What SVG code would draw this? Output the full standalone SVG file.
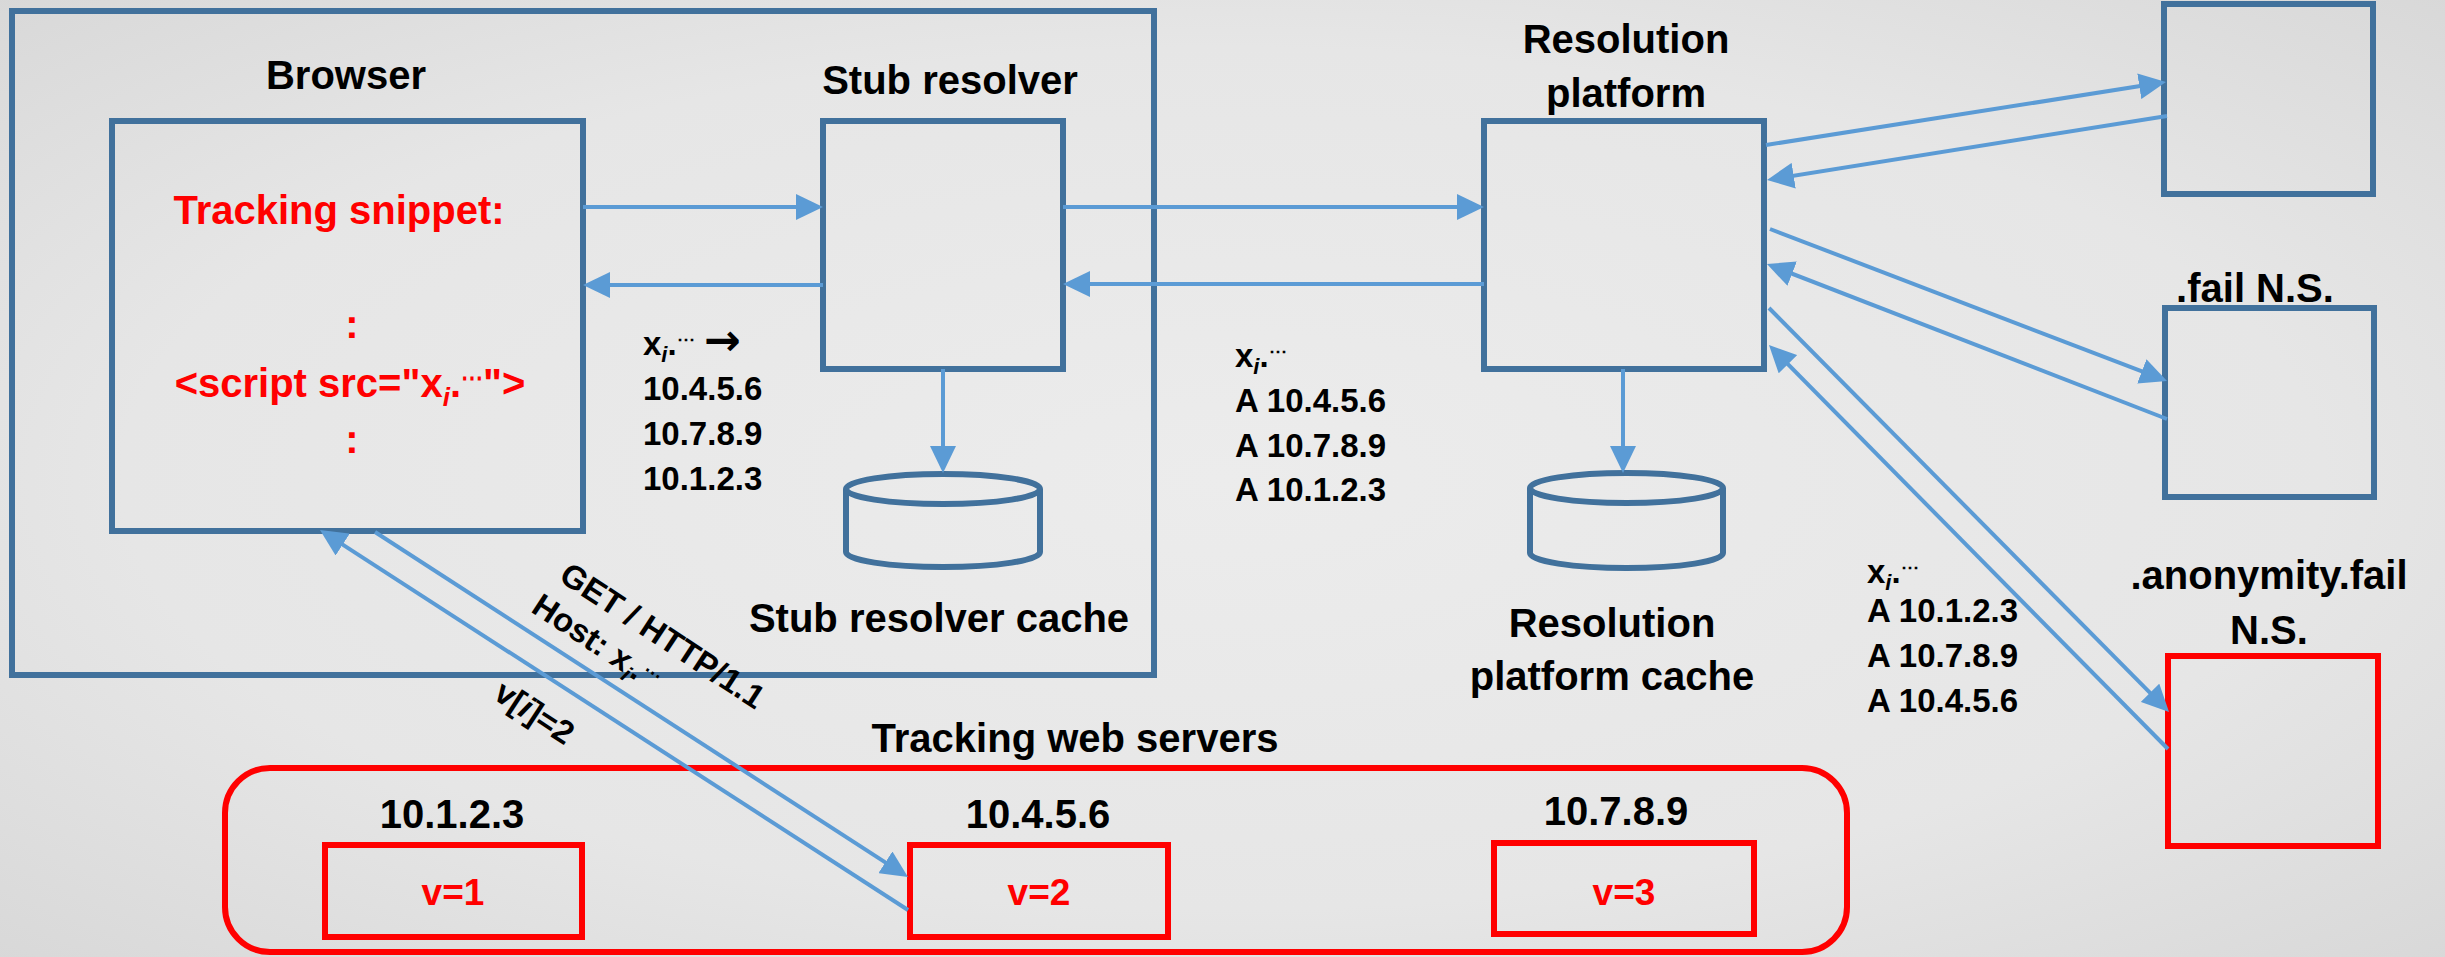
<svg xmlns="http://www.w3.org/2000/svg" width="2445" height="957" viewBox="0 0 2445 957">
<defs>
<radialGradient id="bg" cx="50%" cy="50%" r="75%">
<stop offset="0" stop-color="#ECECEC"/>
<stop offset="0.6" stop-color="#E6E6E6"/>
<stop offset="1" stop-color="#D6D6D6"/>
</radialGradient>
<marker id="ah" markerWidth="27" markerHeight="26" refX="17" refY="13" orient="auto" markerUnits="userSpaceOnUse">
<path d="M0,0 L27,13 L0,26 z" fill="#5B9BD5"/>
</marker>
<style>
.box{fill:none;stroke:#41719C;stroke-width:6}
.rbox{fill:none;stroke:#FF0000;stroke-width:6}
.con{fill:none;stroke:#5B9BD5;stroke-width:4;marker-end:url(#ah)}
text{font-family:"Liberation Sans",Arial,sans-serif;font-weight:bold;fill:#000}
.t40{font-size:40px}
.t33{font-size:33px}
.red{fill:#FF0000}
.mid{text-anchor:middle}
.arr{font-family:"DejaVu Sans",sans-serif;font-weight:bold;font-size:44px}
</style>
</defs>
<rect x="0" y="0" width="2445" height="957" fill="url(#bg)"/>

<g id="host-machine">
<rect class="box" x="12" y="11" width="1142" height="664"/>
</g>

<g id="browser">
<text class="t40 mid" x="346" y="89">Browser</text>
<rect class="box" x="112" y="121" width="471" height="410"/>
<text class="t40 mid red" x="339" y="224">Tracking snippet:</text>
<text class="t40 mid red" x="352" y="338">:</text>
<text class="t40 mid red" x="350" y="397">&lt;script src="x<tspan font-style="italic" font-size="26px" dy="9">i</tspan><tspan dy="-9">.</tspan><tspan font-size="22px" dy="-12">⋯</tspan><tspan dy="12">"&gt;</tspan></text>
<text class="t40 mid red" x="352" y="453">:</text>
</g>

<g id="stub-resolver">
<text class="t40 mid" x="950" y="94">Stub resolver</text>
<rect class="box" x="823" y="121" width="240" height="248"/>
</g>

<g id="stub-resolver-cache">
<path class="box" d="M846,489 L846,552 A97,15 0 0 0 1040,552 L1040,489"/>
<ellipse class="box" cx="943" cy="489" rx="97" ry="15"/>
<text class="t40 mid" x="939" y="632">Stub resolver cache</text>
</g>

<g id="resolution-platform">
<text class="t40 mid" x="1626" y="53">Resolution</text>
<text class="t40 mid" x="1626" y="107">platform</text>
<rect class="box" x="1484" y="121" width="280" height="248"/>
</g>

<g id="resolution-platform-cache">
<path class="box" d="M1530,488 L1530,553 A96.5,15 0 0 0 1723,553 L1723,488"/>
<ellipse class="box" cx="1626.5" cy="488" rx="96.5" ry="15"/>
<text class="t40 mid" x="1612" y="637">Resolution</text>
<text class="t40 mid" x="1612" y="690">platform cache</text>
</g>

<g id="root-ns">
<rect class="box" x="2164" y="4" width="209" height="190"/>
</g>

<g id="fail-ns">
<text class="t40 mid" x="2255" y="302">.fail N.S.</text>
<rect class="box" x="2165" y="308" width="209" height="189"/>
</g>

<g id="anonymity-fail-ns">
<text class="t40 mid" x="2269" y="589">.anonymity.fail</text>
<text class="t40 mid" x="2269" y="644">N.S.</text>
<rect class="rbox" x="2168" y="656" width="210" height="190"/>
</g>

<g id="tracking-web-servers">
<text class="t40 mid" x="1075" y="752">Tracking web servers</text>
<rect class="rbox" x="225" y="768" width="1622" height="184" rx="45" ry="45"/>
</g>

<g id="server-10-1-2-3">
<text class="t40 mid" x="452" y="828">10.1.2.3</text>
<rect class="rbox" x="325" y="845" width="257" height="92"/>
<text class="mid red" x="453" y="905" style="font-size:37px">v=1</text>
</g>

<g id="server-10-4-5-6">
<text class="t40 mid" x="1038" y="828">10.4.5.6</text>
<rect class="rbox" x="910" y="845" width="258" height="92"/>
<text class="mid red" x="1039" y="905" style="font-size:37px">v=2</text>
</g>

<g id="server-10-7-8-9">
<text class="t40 mid" x="1616" y="825">10.7.8.9</text>
<rect class="rbox" x="1494" y="843" width="260" height="91"/>
<text class="mid red" x="1624" y="905" style="font-size:37px">v=3</text>
</g>

<g id="connectors">
<line class="con" x1="583" y1="207" x2="813" y2="207"/>
<line class="con" x1="823" y1="285" x2="593" y2="285"/>
<line class="con" x1="1063" y1="207" x2="1474" y2="207"/>
<line class="con" x1="1484" y1="284" x2="1073" y2="284"/>
<line class="con" x1="943" y1="369" x2="943" y2="463"/>
<line class="con" x1="1623" y1="369" x2="1623" y2="463"/>
<line class="con" x1="1766" y1="145" x2="2156.1" y2="83.6"/>
<line class="con" x1="2167" y1="116" x2="1776.9" y2="178.4"/>
<line class="con" x1="1770" y1="229" x2="2157.7" y2="377.4"/>
<line class="con" x1="2167" y1="419" x2="1776.3" y2="267.6"/>
<line class="con" x1="1769" y1="308" x2="2162" y2="704.9"/>
<line class="con" x1="2168" y1="749" x2="1776" y2="352.1"/>
<line class="con" x1="375" y1="532" x2="899.6" y2="871.6"/>
<line class="con" x1="908" y1="910" x2="328.4" y2="535.4"/>
</g>

<g id="labels">
<text class="t33" x="643" y="355">x<tspan font-style="italic" font-size="22px" dy="7">i</tspan><tspan dy="-7">.</tspan><tspan font-size="18px" dy="-10">⋯</tspan><tspan dy="10"> </tspan><tspan class="arr">→</tspan></text>
<text class="t33" x="643" y="400">10.4.5.6</text>
<text class="t33" x="643" y="445">10.7.8.9</text>
<text class="t33" x="643" y="490">10.1.2.3</text>

<text class="t33" x="1235" y="367">x<tspan font-style="italic" font-size="22px" dy="7">i</tspan><tspan dy="-7">.</tspan><tspan font-size="18px" dy="-10">⋯</tspan></text>
<text class="t33" x="1235" y="412">A 10.4.5.6</text>
<text class="t33" x="1235" y="457">A 10.7.8.9</text>
<text class="t33" x="1235" y="501">A 10.1.2.3</text>

<text class="t33" x="1867" y="583">x<tspan font-style="italic" font-size="22px" dy="7">i</tspan><tspan dy="-7">.</tspan><tspan font-size="18px" dy="-10">⋯</tspan></text>
<text class="t33" x="1867" y="622">A 10.1.2.3</text>
<text class="t33" x="1867" y="667">A 10.7.8.9</text>
<text class="t33" x="1867" y="712">A 10.4.5.6</text>

<text class="t33 mid" x="663" y="647" transform="rotate(33.3 663 635)">GET / HTTP/1.1</text>
<text class="t33 mid" x="597" y="653" transform="rotate(33.3 597 641)">Host: x<tspan font-style="italic" font-size="22px" dy="7">i</tspan><tspan dy="-7">.</tspan><tspan font-size="18px" dy="-10">⋯</tspan><tspan dy="10"> </tspan></text>
<text class="t33 mid" x="535" y="724" transform="rotate(33.3 535 712)">v[<tspan font-style="italic">i</tspan>]=2</text>
</g>
</svg>
